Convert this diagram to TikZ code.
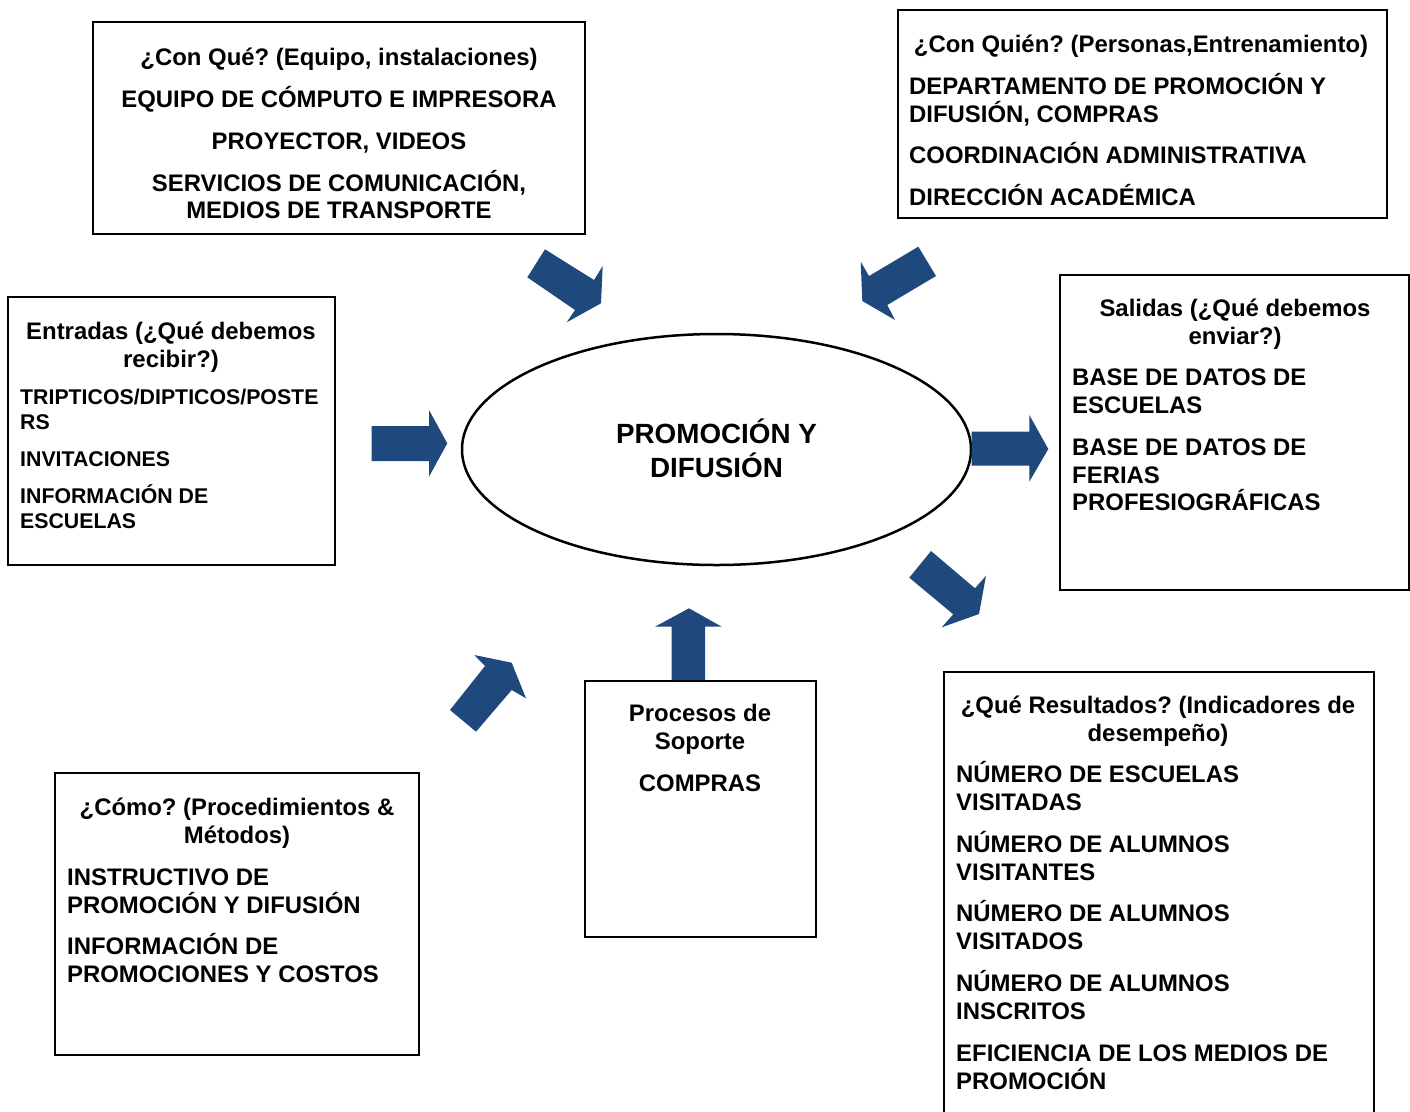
\documentclass[tikz,border=0pt]{standalone}
\usepackage{fontspec}
\setmainfont{Liberation Sans}
\usetikzlibrary{shapes.geometric}
\definecolor{arrowblue}{RGB}{31,73,125}
\frenchspacing
\begin{document}
\begin{tikzpicture}[x=1pt,y=-1pt,
  box/.style={draw=black,line width=2pt},
  txt/.style={inner sep=0pt,font=\fontsize{23.9}{27.5}\selectfont\bfseries},
  txts/.style={inner sep=0pt,font=\fontsize{21.3}{24.5}\selectfont\bfseries},
  txtb/.style={inner sep=0pt,font=\fontsize{27.8}{34}\selectfont\bfseries},
  blockarrow/.style={fill=arrowblue,draw=none}]
\useasboundingbox (0,0) rectangle (1410,1111);

% ---------- boxes ----------
\draw[box] (93,22) rectangle (585,234);
\draw[box] (898,10) rectangle (1387,218);
\draw[box] (8,297) rectangle (335,565);
\draw[box] (1060,275) rectangle (1409,590);
\draw[box] (585,681) rectangle (816,937);
\draw[box] (944,1114) -- (944,672) -- (1374,672) -- (1374,1114);
\draw[box] (55,773) rectangle (419,1055);

% ---------- ellipse ----------
\node[draw=black,line width=2.5pt,ellipse,minimum width=509,minimum height=231,inner sep=0pt] (core) at (716.5,449.5) {};
\node[txtb,align=center,anchor=base] (coretext) at (716.5,477) {PROMOCIÓN Y\\DIFUSIÓN};

% ---------- box A: Con Qué ----------
\node[txt,anchor=base] (a1) at (339,65) {¿Con Qué? (Equipo, instalaciones)};
\node[txt,anchor=base] (a2) at (339,107) {EQUIPO DE CÓMPUTO E IMPRESORA};
\node[txt,anchor=base] (a3) at (339,149) {PROYECTOR, VIDEOS};
\node[txt,align=center,anchor=base] (a4) at (339,218.5) {SERVICIOS DE COMUNICACIÓN,\\MEDIOS DE TRANSPORTE};

% ---------- box B: Con Quién ----------
\node[txt,anchor=base] (b1) at (1141,52.6) {¿Con Quién? (Personas,Entrenamiento)};
\node[txt,align=left,anchor=base west] (b2) at (909,122.1) {DEPARTAMENTO DE PROMOCIÓN Y\\DIFUSIÓN, COMPRAS};
\node[txt,anchor=base west] (b3) at (909,163.6) {COORDINACIÓN ADMINISTRATIVA};
\node[txt,anchor=base west] (b4) at (909,205.6) {DIRECCIÓN ACADÉMICA};

% ---------- box C: Entradas ----------
\node[txt,align=center,anchor=base] (c1) at (171,367.1) {Entradas (¿Qué debemos\\recibir?)};
\node[txts,align=left,anchor=base west] (c2) at (20,429.1) {TRIPTICOS/DIPTICOS/POSTE\\RS};
\node[txts,anchor=base west] (c3) at (20,466.6) {INVITACIONES};
\node[txts,align=left,anchor=base west] (c4) at (20,528.1) {INFORMACIÓN DE\\ESCUELAS};

% ---------- box D: Salidas ----------
\node[txt,align=center,anchor=base] (d1) at (1235,344.1) {Salidas (¿Qué debemos\\enviar?)};
\node[txt,align=left,anchor=base west] (d2) at (1072,413.1) {BASE DE DATOS DE\\ESCUELAS};
\node[txt,align=left,anchor=base west] (d3) at (1072,510.6) {BASE DE DATOS DE\\FERIAS\\PROFESIOGRÁFICAS};

% ---------- box E: Procesos de Soporte ----------
\node[txt,align=center,anchor=base] (e1) at (700,749.1) {Procesos de\\Soporte};
\node[txt,anchor=base] (e2) at (700,791.6) {COMPRAS};

% ---------- box F: Resultados ----------
\node[txt,align=center,anchor=base] (f1) at (1158,741.1) {¿Qué Resultados? (Indicadores de\\desempeño)};
\node[txt,align=left,anchor=base west] (f2) at (956,810.1) {NÚMERO DE ESCUELAS\\VISITADAS};
\node[txt,align=left,anchor=base west] (f3) at (956,880.1) {NÚMERO DE ALUMNOS\\VISITANTES};
\node[txt,align=left,anchor=base west] (f4) at (956,949.1) {NÚMERO DE ALUMNOS\\VISITADOS};
\node[txt,align=left,anchor=base west] (f5) at (956,1019.1) {NÚMERO DE ALUMNOS\\INSCRITOS};
\node[txt,align=left,anchor=base west] (f6) at (956,1089.1) {EFICIENCIA DE LOS MEDIOS DE\\PROMOCIÓN};

% ---------- box G: Cómo ----------
\node[txt,align=center,anchor=base] (g1) at (237,843.1) {¿Cómo? (Procedimientos \&\\Métodos)};
\node[txt,align=left,anchor=base west] (g2) at (67,913.1) {INSTRUCTIVO DE\\PROMOCIÓN Y DIFUSIÓN};
\node[txt,align=left,anchor=base west] (g3) at (67,982.1) {INFORMACIÓN DE\\PROMOCIONES Y COSTOS};

% ---------- block arrows ----------
\fill[blockarrow] (545,249.3) -- (594,280) -- (602.7,266) -- (601,303.3) -- (566.7,322.3) -- (575,310) -- (527.3,277.3) -- cycle;
\fill[blockarrow] (918.3,246.7) -- (869,276) -- (860.7,261.7) -- (862.3,301) -- (895,320) -- (887.3,305) -- (936,276) -- cycle;
\fill[blockarrow] (371.7,426) -- (429,426) -- (429,410) -- (447.3,443.3) -- (429,476.7) -- (429,461) -- (371.7,461) -- cycle;
\fill[blockarrow] (971.7,431.7) -- (1029.3,431.7) -- (1029.3,415) -- (1048.3,449) -- (1029.3,481.7) -- (1029.3,465.7) -- (971.7,465.7) -- cycle;
\fill[blockarrow] (931,551) -- (975,588.3) -- (986,575.7) -- (979,614) -- (941.7,627.3) -- (953.3,614.3) -- (909.3,577.7) -- cycle;
\fill[blockarrow] (671.7,680) -- (671.7,626.7) -- (655,626.7) -- (689,608.3) -- (721.7,626.7) -- (705,626.7) -- (705,680) -- cycle;
\fill[blockarrow] (450,710) -- (485,666) -- (474.3,655) -- (511.7,662.7) -- (526,698.3) -- (511.7,690) -- (476,731.7) -- cycle;
\end{tikzpicture}
\end{document}
